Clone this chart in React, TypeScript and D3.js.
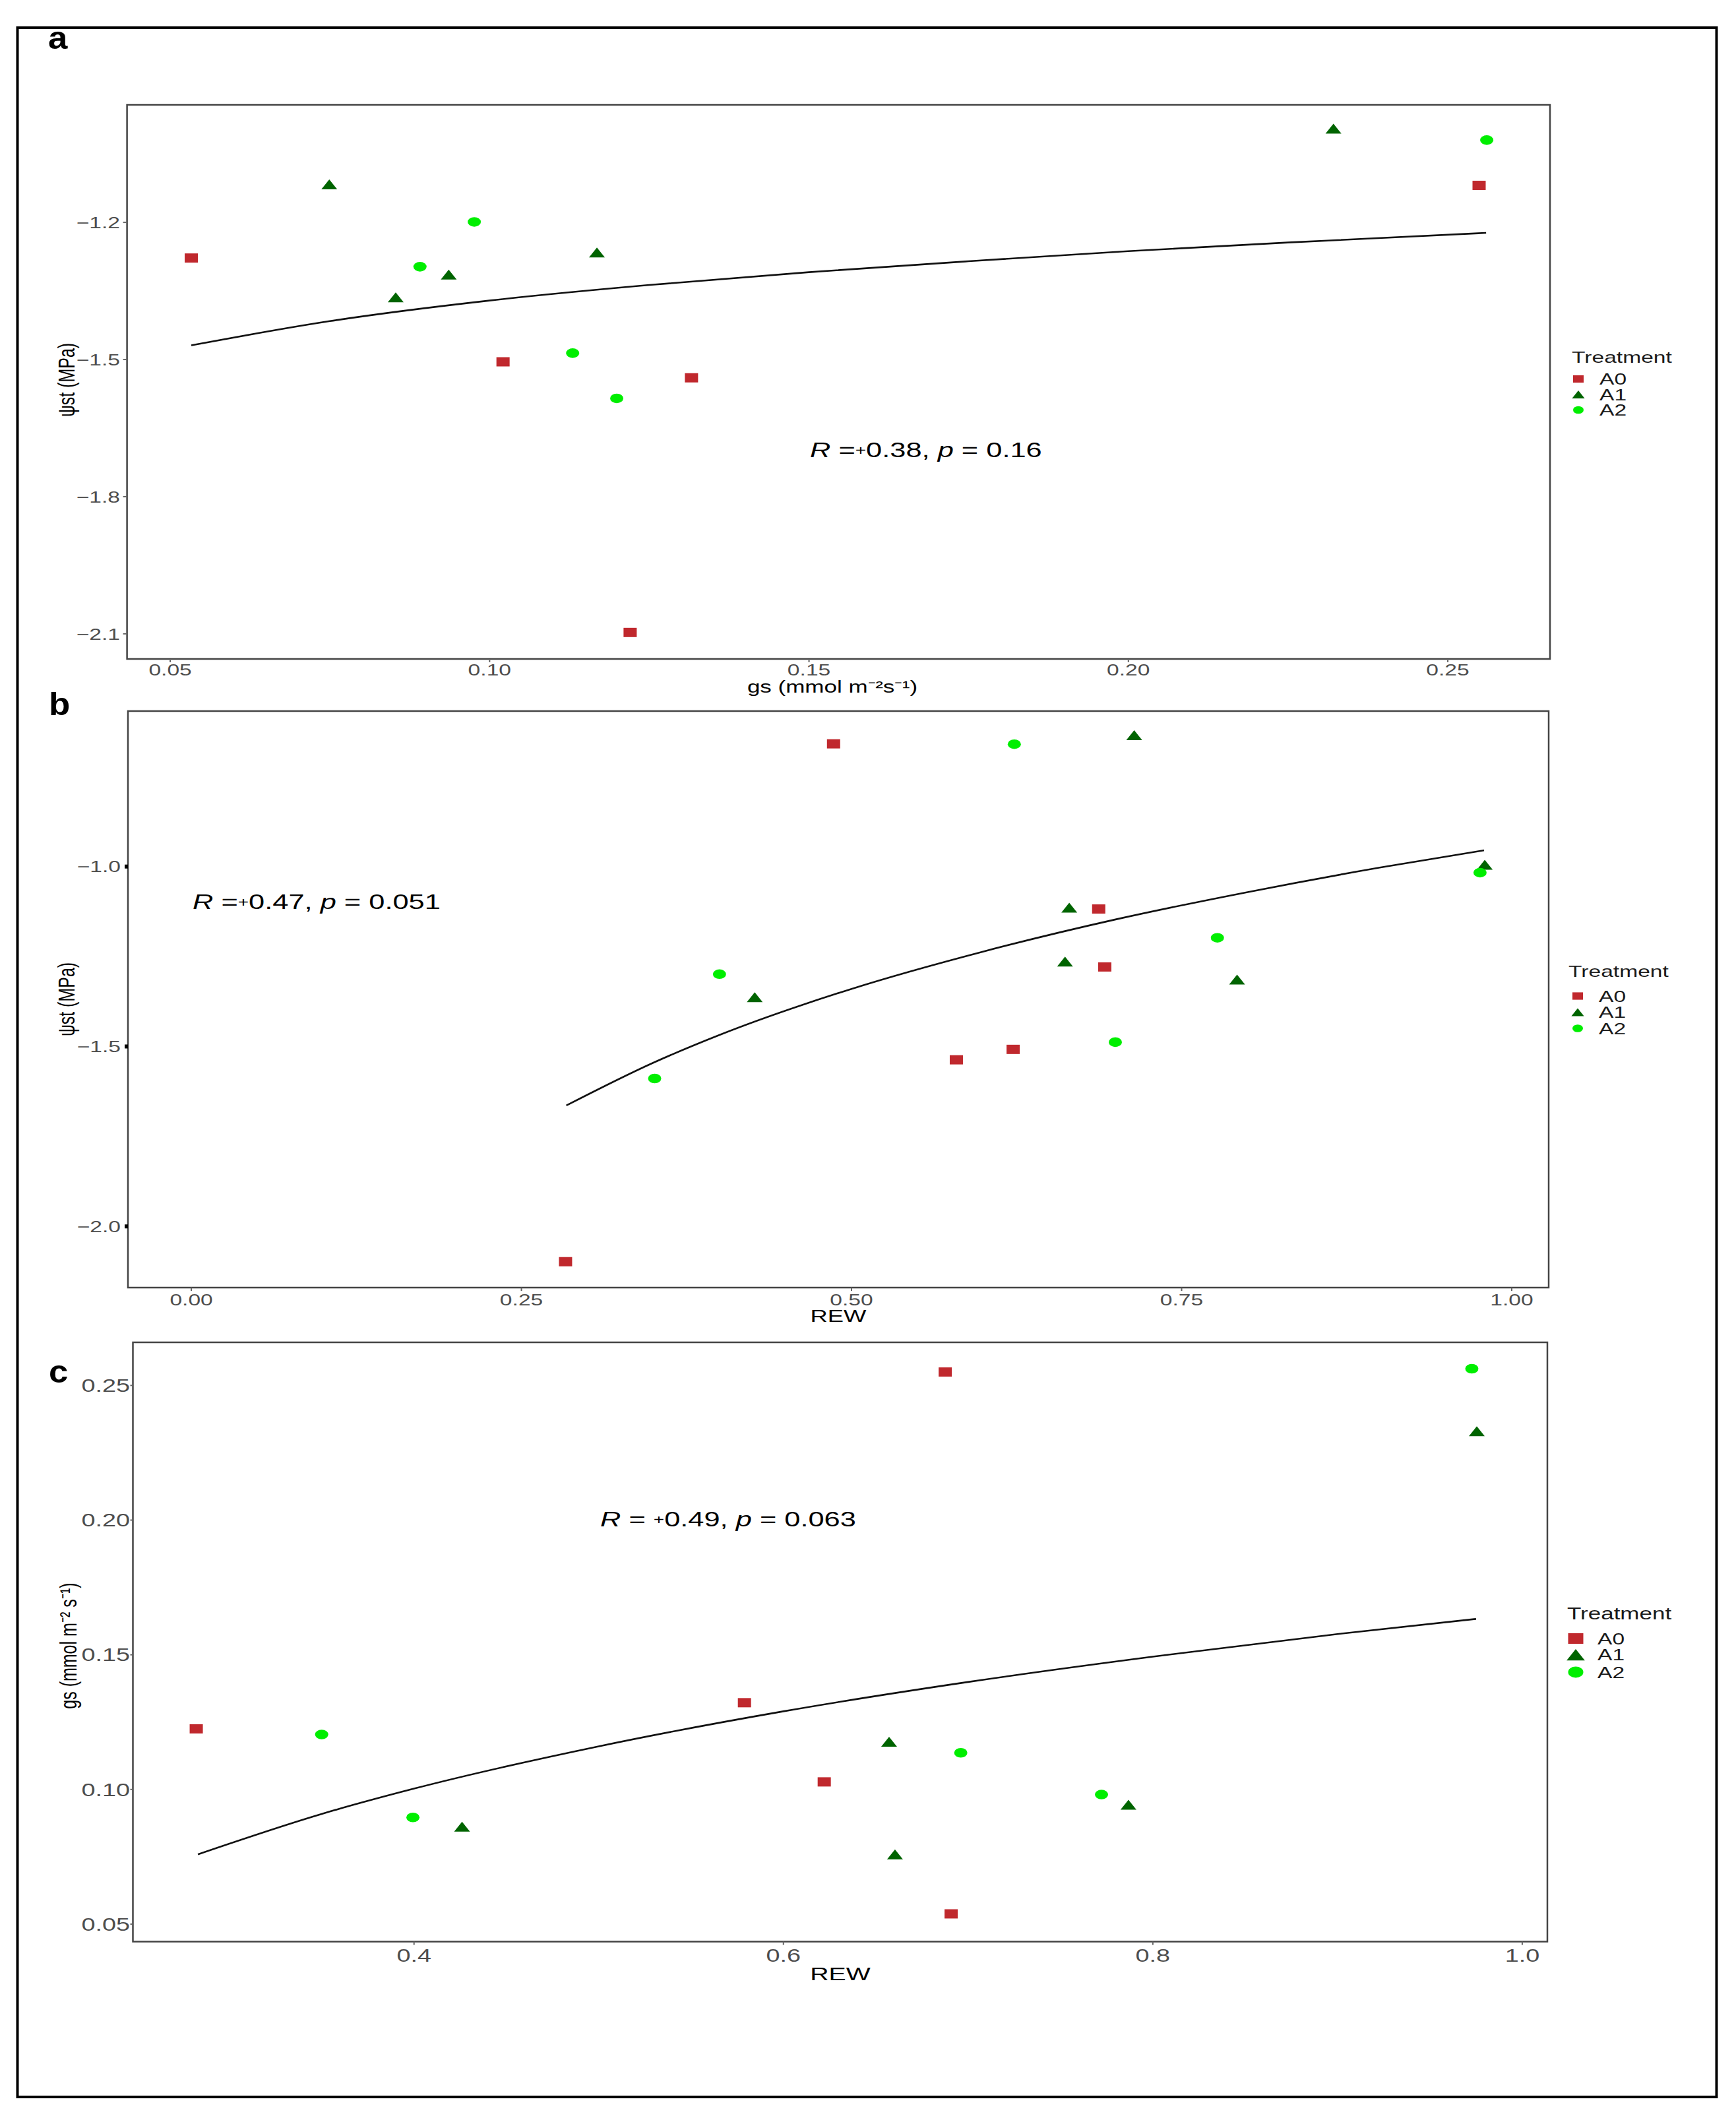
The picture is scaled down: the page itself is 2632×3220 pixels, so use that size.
import React from 'react';
import * as d3 from 'd3';

// ---- data ----
const treatments = ['A0', 'A1', 'A2'];
const colors = ['#C0282D', '#006400', '#00EE00'];

// panel a : gs vs psi
const aGsA0 = [0.0533, 0.1021, 0.1316, 0.122, 0.2549];
const aPsiA0 = [-1.278, -1.505, -1.54, -2.097, -1.119];
const aGsA1 = [0.0749, 0.0853, 0.0936, 0.1168, 0.2321];
const aPsiA1 = [-1.117, -1.364, -1.314, -1.266, -0.995];
const aGsA2 = [0.0891, 0.0976, 0.113, 0.1199, 0.2561];
const aPsiA2 = [-1.297, -1.199, -1.486, -1.585, -1.02];
const aFitX = [0.0533, 0.075, 0.1, 0.125, 0.15, 0.175, 0.2, 0.225, 0.256];
const aFitY = [-1.469, -1.416, -1.371, -1.337, -1.309, -1.285, -1.263, -1.244, -1.223];
const aXTicks = [0.05, 0.1, 0.15, 0.2, 0.25];
const aYTicks = [-2.1, -1.8, -1.5, -1.2];

// panel b : REW vs psi
const bRewA0 = [0.2834, 0.4864, 0.5794, 0.6224, 0.6872, 0.6918];
const bPsiA0 = [-2.098, -0.659, -1.537, -1.508, -1.118, -1.279];
const bRewA1 = [0.4267, 0.6617, 0.6649, 0.7141, 0.792, 0.9796];
const bPsiA1 = [-1.363, -1.264, -1.114, -0.635, -1.314, -0.995];
const bRewA2 = [0.3509, 0.4, 0.6233, 0.6998, 0.7771, 0.976];
const bPsiA2 = [-1.589, -1.299, -0.66, -1.488, -1.198, -1.017];
const bFitX = [0.284, 0.35, 0.4, 0.5, 0.6, 0.7, 0.8, 0.9, 0.979];
const bFitY = [-1.664, -1.545, -1.468, -1.34, -1.236, -1.147, -1.071, -1.003, -0.955];
const bXTicks = [0, 0.25, 0.5, 0.75, 1];
const bYTicks = [-2.0, -1.5, -1.0];

// panel c : REW vs gs
const cRewA0 = [0.2821, 0.5789, 0.6221, 0.6876, 0.6908];
const cGsA0 = [0.1225, 0.1322, 0.1028, 0.255, 0.0538];
const cRewA1 = [0.426, 0.6572, 0.6604, 0.7868, 0.9754];
const cGsA1 = [0.0862, 0.1177, 0.0759, 0.0943, 0.233];
const cRewA2 = [0.35, 0.3994, 0.696, 0.7722, 0.9727];
const cGsA2 = [0.1204, 0.0896, 0.1136, 0.0981, 0.2562];
const cFitX = [0.283, 0.35, 0.4, 0.5, 0.6, 0.7, 0.8, 0.9, 0.975];
const cFitY = [0.0759, 0.0909, 0.1003, 0.116, 0.129, 0.1399, 0.1493, 0.1577, 0.1633];
const cXTicks = [0.4, 0.6, 0.8, 1.0];
const cYTicks = [0.05, 0.1, 0.15, 0.2, 0.25];

const SX = 1.4; // the figure is stretched horizontally
const FONT = 'Arial, "Liberation Sans", Helvetica, sans-serif';

function Txt({x, y, size, anchor = 'start', rot = false, sx = SX, weight = 'normal', fill = '#000', dy = 0, children}: any) {
    return (
        <text
            transform={`translate(${x},${y}) scale(${sx},1)${rot ? ' rotate(-90)' : ''}`}
            fontSize={size} textAnchor={anchor} fontWeight={weight} fill={fill}
            fontFamily={FONT} dy={dy}>
            {children}
        </text>
    );
}

function Marker({k, x, y, s = 1}: any) {
    if (k === 0) {
        const w = 20 * s, h = 14 * s;
        return <rect x={x - w / 2} y={y - h / 2} width={w} height={h} fill={colors[0]} />;
    }
    if (k === 1) {
        const w = 24 * s, h = 15 * s;
        return <path d={`M${x},${y - h / 2}L${x + w / 2},${y + h / 2}L${x - w / 2},${y + h / 2}Z`} fill={colors[1]} />;
    }
    return <ellipse cx={x} cy={y} rx={10 * s} ry={7.3 * s} fill={colors[2]} />;
}

function Panel({p}: any) {
    const x = d3.scaleLinear().domain(p.xDom).range([p.left, p.right]);
    const y = d3.scaleLinear().domain(p.yDom).range([p.bottom, p.top]);
    const line = d3.line<number>()
        .x(d => x(p.fitX[d]))
        .y(d => y(p.fitY[d]))
        .curve(d3.curveMonotoneX);
    const fmtX = d3.format(p.xFmt);
    const fmtY = d3.format(p.yFmt);
    return (
        <g>
            <rect x={p.left} y={p.top} width={p.right - p.left} height={p.bottom - p.top}
                fill="#fff" stroke="#444" strokeWidth={2.5} />
            {p.yTicks.map((t: number) => (
                <g key={'y' + t}>
                    <line x1={p.left - p.tickLen} x2={p.left} y1={y(t)} y2={y(t)}
                        stroke={p.tickColor} strokeWidth={p.tickW} />
                    <Txt x={p.yLabX} y={y(t)} size={p.tickSize} anchor="end" fill="#4D4D4D" dy="0.36em">
                        {fmtY(t)}
                    </Txt>
                </g>
            ))}
            {p.xTicks.map((t: number) => (
                <g key={'x' + t}>
                    <line x1={x(t)} x2={x(t)} y1={p.bottom} y2={p.bottom + 5} stroke="#666" strokeWidth={2} />
                    <Txt x={x(t)} y={p.xLabY} size={p.tickSize} anchor="middle" fill="#4D4D4D">
                        {fmtX(t)}
                    </Txt>
                </g>
            ))}
            <path d={line(d3.range(p.fitX.length)) || ''} fill="none" stroke="#111" strokeWidth={2.6} />
            {p.series.map((s: any, k: number) =>
                s.x.map((v: number, i: number) => (
                    <Marker key={k + '-' + i} k={k} x={x(v)} y={y(s.y[i])} />
                ))
            )}
            <Txt x={p.statX} y={p.statY} size={31}>
                <tspan fontStyle="italic">R</tspan>
                <tspan>{p.statEq}</tspan>
                <tspan fontSize={20} dy={-3}>+</tspan>
                <tspan dy={3}>{p.statR + ', '}</tspan>
                <tspan fontStyle="italic">p</tspan>
                <tspan>{' = ' + p.statP}</tspan>
            </Txt>
            <Txt x={p.xTitleX} y={p.xTitleY} size={p.titleSize} anchor="middle">{p.xTitle}</Txt>
            <Txt x={p.yTitleX} y={p.yTitleY} size={25} anchor="middle" rot>{p.yTitle}</Txt>
            <Txt x={p.labX} y={p.labY} size={48} weight="bold" sx={1.1}>{p.label}</Txt>
            <Txt x={p.legX} y={p.legY} size={p.legSize} fill="#1a1a1a">Treatment</Txt>
            {treatments.map((tr, k) => (
                <g key={tr}>
                    <Marker k={k} x={p.legX + p.legMx} y={p.legRows[k]} s={p.legS} />
                    <Txt x={p.legX + p.legTx} y={p.legRows[k]} size={24} dy="0.36em" fill="#1a1a1a">{tr}</Txt>
                </g>
            ))}
        </g>
    );
}

const panels = [
    {
        label: 'a', labX: 73, labY: 74,
        left: 192.6, right: 2350, top: 159, bottom: 999,
        xDom: [0.04324, 0.266], yDom: [-2.155, -0.943],
        xTicks: aXTicks, yTicks: aYTicks, xFmt: '.2f', yFmt: '.1f',
        tickSize: 24, tickLen: 6, tickW: 2, tickColor: '#666', yLabX: 182, xLabY: 1024,
        fitX: aFitX, fitY: aFitY,
        series: [{x: aGsA0, y: aPsiA0}, {x: aGsA1, y: aPsiA1}, {x: aGsA2, y: aPsiA2}],
        statX: 1228, statY: 693, statEq: ' =', statR: '0.38', statP: '0.16',
        xTitle: 'gs (mmol m\u207B\u00B2s\u207B\u00B9)', xTitleX: 1262, xTitleY: 1050, titleSize: 25,
        yTitle: '\u03C8st (MPa)', yTitleX: 113, yTitleY: 576,
        legX: 2383, legY: 550, legSize: 24, legMx: 10, legTx: 42, legS: 0.8, legRows: [574.5, 598, 621.5],
    },
    {
        label: 'b', labX: 74, labY: 1084,
        left: 194, right: 2348, top: 1078, bottom: 1952,
        xDom: [-0.048, 1.028], yDom: [-2.17, -0.568],
        xTicks: bXTicks, yTicks: bYTicks, xFmt: '.2f', yFmt: '.1f',
        tickSize: 24, tickLen: 5, tickW: 6, tickColor: '#000', yLabX: 183, xLabY: 1979,
        fitX: bFitX, fitY: bFitY,
        series: [{x: bRewA0, y: bPsiA0}, {x: bRewA1, y: bPsiA1}, {x: bRewA2, y: bPsiA2}],
        statX: 292, statY: 1377.5, statEq: ' =', statR: '0.47', statP: '0.051',
        xTitle: 'REW', xTitleX: 1271, xTitleY: 2004, titleSize: 26,
        yTitle: '\u03C8st (MPa)', yTitleX: 113, yTitleY: 1515,
        legX: 2378, legY: 1481, legSize: 24, legMx: 14, legTx: 46, legS: 0.8, legRows: [1510, 1534.5, 1559],
    },
    {
        label: 'c', labX: 74, labY: 2096,
        left: 201.5, right: 2346, top: 2035, bottom: 2943.5,
        xDom: [0.2478, 1.0136], yDom: [0.0435, 0.266],
        xTicks: cXTicks, yTicks: cYTicks, xFmt: '.1f', yFmt: '.2f',
        tickSize: 27, tickLen: 4, tickW: 2, tickColor: '#666', yLabX: 197, xLabY: 2974,
        fitX: cFitX, fitY: cFitY,
        series: [{x: cRewA0, y: cGsA0}, {x: cRewA1, y: cGsA1}, {x: cRewA2, y: cGsA2}],
        statX: 910, statY: 2314, statEq: ' = ', statR: '0.49', statP: '0.063',
        xTitle: 'REW', xTitleX: 1274, xTitleY: 3002, titleSize: 28,
        yTitle: 'gs (mmol m\u207B\u00B2 s\u207B\u00B9)', yTitleX: 116, yTitleY: 2495,
        legX: 2376, legY: 2455, legSize: 25, legMx: 13, legTx: 46, legS: 1.15, legRows: [2484, 2508.5, 2535],
    },
];

export default function App() {
    return (
        <svg width={2632} height={3220} style={{position: 'absolute', left: 0, top: 0, background: '#fff'}}>
            <rect x={0} y={0} width={2632} height={3220} fill="#fff" />
            <rect x={26.5} y={42} width={2576} height={3137} fill="none" stroke="#000" strokeWidth={4} />
            {panels.map(p => <Panel key={p.label} p={p} />)}
        </svg>
    );
}
